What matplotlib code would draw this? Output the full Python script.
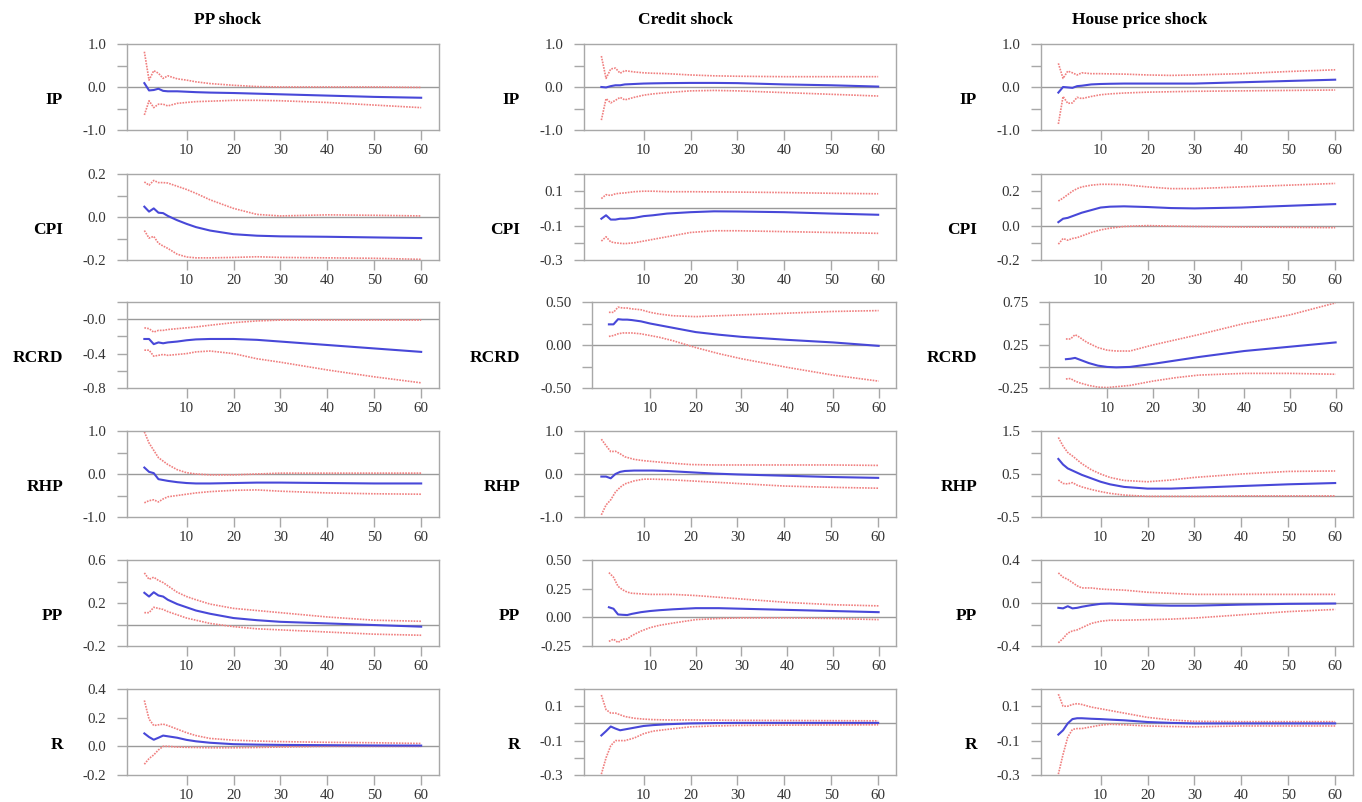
import numpy as np
import matplotlib
matplotlib.use("Agg")
import matplotlib.pyplot as plt

plt.rcParams['font.family'] = ['Liberation Serif', 'DejaVu Serif']

# horizons
H = [1, 2, 3, 4, 5, 6, 8, 10, 12, 15, 20, 25, 30, 40, 50, 60]

shocks = ["PP shock", "Credit shock", "House price shock"]
variables = ["IP", "CPI", "RCRD", "RHP", "PP", "R"]

# ---- PP shock ----
pp_ip_med = [0.09, -0.08, -0.07, -0.04, -0.09, -0.10, -0.10, -0.11, -0.12, -0.13, -0.14, -0.155, -0.17, -0.20, -0.23, -0.25]
pp_ip_hi = [0.82, 0.16, 0.38, 0.32, 0.20, 0.26, 0.19, 0.16, 0.12, 0.08, 0.04, 0.01, 0.0, 0.0, 0.0, -0.01]
pp_ip_lo = [-0.65, -0.32, -0.48, -0.40, -0.40, -0.44, -0.38, -0.36, -0.34, -0.33, -0.31, -0.31, -0.32, -0.36, -0.42, -0.48]

pp_cpi_med = [0.048, 0.025, 0.04, 0.02, 0.018, 0.005, -0.015, -0.032, -0.047, -0.063, -0.08, -0.087, -0.09, -0.092, -0.095, -0.098]
pp_cpi_hi = [0.163, 0.148, 0.17, 0.16, 0.16, 0.158, 0.143, 0.128, 0.11, 0.08, 0.04, 0.012, 0.005, 0.01, 0.008, 0.005]
pp_cpi_lo = [-0.063, -0.098, -0.09, -0.122, -0.135, -0.146, -0.173, -0.186, -0.19, -0.19, -0.188, -0.185, -0.188, -0.19, -0.192, -0.197]

pp_rcrd_med = [-0.23, -0.23, -0.29, -0.27, -0.28, -0.27, -0.26, -0.245, -0.235, -0.23, -0.23, -0.24, -0.26, -0.30, -0.34, -0.38]
pp_rcrd_hi = [-0.10, -0.11, -0.15, -0.13, -0.13, -0.12, -0.11, -0.10, -0.09, -0.07, -0.04, -0.02, -0.01, -0.01, -0.01, -0.01]
pp_rcrd_lo = [-0.36, -0.36, -0.43, -0.42, -0.41, -0.42, -0.41, -0.40, -0.38, -0.37, -0.40, -0.46, -0.50, -0.59, -0.67, -0.74]

pp_rhp_med = [0.15, 0.05, 0.02, -0.12, -0.14, -0.16, -0.19, -0.21, -0.22, -0.22, -0.21, -0.20, -0.20, -0.21, -0.22, -0.22]
pp_rhp_hi = [0.98, 0.72, 0.55, 0.38, 0.30, 0.22, 0.10, 0.03, 0.0, -0.02, -0.02, 0.0, 0.02, 0.02, 0.02, 0.02]
pp_rhp_lo = [-0.67, -0.62, -0.60, -0.65, -0.58, -0.53, -0.50, -0.47, -0.44, -0.41, -0.38, -0.37, -0.40, -0.44, -0.46, -0.47]

pp_pp_med = [0.295, 0.26, 0.30, 0.27, 0.26, 0.23, 0.19, 0.16, 0.13, 0.10, 0.06, 0.04, 0.025, 0.01, -0.005, -0.02]
pp_pp_hi = [0.48, 0.42, 0.44, 0.41, 0.39, 0.36, 0.30, 0.26, 0.23, 0.19, 0.15, 0.13, 0.11, 0.07, 0.04, 0.03]
pp_pp_lo = [0.11, 0.11, 0.16, 0.15, 0.14, 0.12, 0.09, 0.06, 0.04, 0.01, -0.02, -0.04, -0.05, -0.07, -0.09, -0.10]

pp_r_med = [0.09, 0.065, 0.046, 0.06, 0.075, 0.07, 0.06, 0.045, 0.035, 0.025, 0.015, 0.012, 0.01, 0.008, 0.006, 0.005]
pp_r_hi = [0.32, 0.19, 0.145, 0.15, 0.155, 0.145, 0.12, 0.095, 0.075, 0.055, 0.043, 0.037, 0.033, 0.028, 0.025, 0.02]
pp_r_lo = [-0.125, -0.085, -0.06, -0.025, 0.0, 0.0, -0.005, -0.007, -0.008, -0.01, -0.01, -0.008, -0.005, 0.0, 0.0, 0.0]

# ---- Credit shock ----
cr_ip_med = [0.0, -0.01, 0.02, 0.04, 0.04, 0.06, 0.07, 0.08, 0.085, 0.09, 0.095, 0.095, 0.09, 0.06, 0.04, 0.01]
cr_ip_hi = [0.72, 0.20, 0.42, 0.44, 0.32, 0.38, 0.35, 0.33, 0.32, 0.31, 0.28, 0.26, 0.25, 0.24, 0.24, 0.24]
cr_ip_lo = [-0.77, -0.27, -0.37, -0.31, -0.24, -0.30, -0.24, -0.19, -0.16, -0.13, -0.09, -0.08, -0.09, -0.13, -0.17, -0.21]

cr_cpi_med = [-0.06, -0.04, -0.065, -0.065, -0.06, -0.06, -0.055, -0.045, -0.04, -0.03, -0.022, -0.017, -0.018, -0.022, -0.03, -0.037]
cr_cpi_hi = [0.057, 0.08, 0.075, 0.085, 0.088, 0.09, 0.097, 0.1, 0.1, 0.097, 0.097, 0.096, 0.095, 0.092, 0.088, 0.085]
cr_cpi_lo = [-0.19, -0.165, -0.195, -0.2, -0.203, -0.205, -0.2, -0.19, -0.18, -0.165, -0.14, -0.13, -0.13, -0.135, -0.14, -0.145]

cr_rcrd_med = [0.24, 0.24, 0.30, 0.295, 0.295, 0.29, 0.275, 0.25, 0.23, 0.2, 0.15, 0.12, 0.095, 0.06, 0.03, -0.01]
cr_rcrd_hi = [0.38, 0.38, 0.44, 0.43, 0.43, 0.42, 0.41, 0.38, 0.36, 0.34, 0.33, 0.34, 0.35, 0.37, 0.39, 0.40]
cr_rcrd_lo = [0.10, 0.11, 0.13, 0.14, 0.14, 0.14, 0.13, 0.11, 0.09, 0.05, -0.03, -0.10, -0.16, -0.26, -0.35, -0.42]

cr_rhp_med = [-0.06, -0.06, -0.10, 0.0, 0.05, 0.07, 0.08, 0.08, 0.08, 0.07, 0.04, 0.01, -0.01, -0.04, -0.07, -0.09]
cr_rhp_hi = [0.81, 0.66, 0.52, 0.53, 0.47, 0.40, 0.34, 0.31, 0.29, 0.26, 0.22, 0.21, 0.21, 0.21, 0.21, 0.20]
cr_rhp_lo = [-0.95, -0.72, -0.60, -0.42, -0.31, -0.23, -0.16, -0.12, -0.12, -0.13, -0.16, -0.19, -0.22, -0.28, -0.31, -0.33]

cr_pp_med = [0.088, 0.075, 0.025, 0.022, 0.02, 0.03, 0.045, 0.055, 0.062, 0.07, 0.08, 0.08, 0.075, 0.065, 0.055, 0.045]
cr_pp_hi = [0.39, 0.35, 0.27, 0.24, 0.22, 0.21, 0.205, 0.2, 0.2, 0.2, 0.19, 0.175, 0.16, 0.13, 0.11, 0.10]
cr_pp_lo = [-0.21, -0.19, -0.22, -0.19, -0.19, -0.16, -0.12, -0.09, -0.07, -0.05, -0.02, -0.01, -0.005, -0.005, -0.01, -0.02]

cr_r_med = [-0.07, -0.045, -0.018, -0.03, -0.04, -0.035, -0.025, -0.015, -0.01, -0.005, 0.0, 0.002, 0.003, 0.003, 0.003, 0.003]
cr_r_hi = [0.165, 0.08, 0.06, 0.06, 0.05, 0.04, 0.03, 0.025, 0.022, 0.02, 0.02, 0.019, 0.018, 0.017, 0.016, 0.015]
cr_r_lo = [-0.295, -0.2, -0.13, -0.1, -0.1, -0.1, -0.085, -0.06, -0.045, -0.035, -0.02, -0.015, -0.012, -0.01, -0.009, -0.008]

# ---- House price shock ----
hp_ip_med = [-0.13, 0.0, -0.01, -0.02, 0.02, 0.03, 0.06, 0.07, 0.075, 0.08, 0.08, 0.08, 0.08, 0.11, 0.14, 0.17]
hp_ip_hi = [0.55, 0.2, 0.37, 0.33, 0.28, 0.33, 0.31, 0.31, 0.305, 0.30, 0.28, 0.27, 0.28, 0.31, 0.36, 0.40]
hp_ip_lo = [-0.86, -0.22, -0.38, -0.37, -0.24, -0.27, -0.22, -0.18, -0.16, -0.14, -0.12, -0.11, -0.10, -0.09, -0.08, -0.07]

hp_cpi_med = [0.02, 0.04, 0.045, 0.055, 0.065, 0.075, 0.09, 0.105, 0.11, 0.112, 0.108, 0.102, 0.1, 0.105, 0.115, 0.125]
hp_cpi_hi = [0.143, 0.16, 0.18, 0.2, 0.215, 0.225, 0.235, 0.24, 0.24, 0.238, 0.225, 0.215, 0.215, 0.225, 0.235, 0.245]
hp_cpi_lo = [-0.108, -0.075, -0.085, -0.075, -0.07, -0.06, -0.04, -0.025, -0.015, -0.005, 0.0, -0.003, -0.005, -0.008, -0.01, -0.012]

hp_rcrd_med = [0.085, 0.09, 0.10, 0.08, 0.06, 0.04, 0.01, -0.005, -0.01, -0.005, 0.03, 0.07, 0.11, 0.18, 0.23, 0.28]
hp_rcrd_hi = [0.32, 0.32, 0.37, 0.34, 0.30, 0.27, 0.22, 0.19, 0.18, 0.18, 0.25, 0.31, 0.37, 0.50, 0.60, 0.74]
hp_rcrd_lo = [-0.145, -0.14, -0.17, -0.19, -0.205, -0.22, -0.24, -0.245, -0.235, -0.22, -0.17, -0.13, -0.10, -0.08, -0.08, -0.09]

hp_rhp_med = [0.85, 0.72, 0.63, 0.58, 0.53, 0.48, 0.40, 0.32, 0.26, 0.20, 0.16, 0.16, 0.18, 0.22, 0.26, 0.29]
hp_rhp_hi = [1.35, 1.15, 1.0, 0.92, 0.83, 0.74, 0.60, 0.50, 0.42, 0.35, 0.32, 0.36, 0.42, 0.50, 0.56, 0.57]
hp_rhp_lo = [0.36, 0.28, 0.27, 0.30, 0.24, 0.20, 0.14, 0.09, 0.05, 0.01, -0.02, -0.02, -0.02, -0.01, -0.01, -0.01]

hp_pp_med = [-0.045, -0.05, -0.03, -0.05, -0.045, -0.035, -0.02, -0.008, -0.005, -0.01, -0.02, -0.025, -0.025, -0.015, -0.008, -0.005]
hp_pp_hi = [0.28, 0.24, 0.22, 0.19, 0.16, 0.14, 0.14, 0.13, 0.125, 0.12, 0.10, 0.09, 0.08, 0.08, 0.08, 0.08]
hp_pp_lo = [-0.37, -0.33, -0.28, -0.26, -0.25, -0.23, -0.19, -0.17, -0.16, -0.16, -0.155, -0.15, -0.14, -0.11, -0.08, -0.06]

hp_r_med = [-0.065, -0.04, 0.0, 0.025, 0.03, 0.03, 0.027, 0.025, 0.022, 0.018, 0.008, 0.003, 0.0, 0.0, 0.0, 0.0]
hp_r_hi = [0.17, 0.1, 0.1, 0.11, 0.115, 0.11, 0.095, 0.085, 0.075, 0.06, 0.035, 0.02, 0.012, 0.01, 0.01, 0.01]
hp_r_lo = [-0.295, -0.18, -0.08, -0.035, -0.03, -0.03, -0.02, -0.01, -0.005, -0.008, -0.015, -0.018, -0.02, -0.015, -0.015, -0.015]

# y tick labels per panel (bottom to top, '' = unlabeled tick)
lab_pm1 = ["-1.0", "", "0.0", "", "1.0"]
pp_ylabels = [lab_pm1, ["-0.2", "", "0.0", "", "0.2"], ["-0.8", "", "-0.4", "", "-0.0", ""],
              lab_pm1, ["-0.2", "", "0.2", "", "0.6"], ["-0.2", "0.0", "0.2", "0.4"]]
cr_ylabels = [lab_pm1, ["-0.3", "", "-0.1", "", "0.1", ""], ["-0.50", "", "0.00", "", "0.50"],
              lab_pm1, ["-0.25", "0.00", "0.25", "0.50"], ["-0.3", "", "-0.1", "", "0.1", ""]]
hp_ylabels = [lab_pm1, ["-0.2", "", "0.0", "", "0.2", ""], ["-0.25", "", "0.25", "", "0.75"],
              ["-0.5", "", "0.5", "", "1.5"], ["-0.4", "", "0.0", "", "0.4"], ["-0.3", "", "-0.1", "", "0.1", ""]]
pp_ylim = [(-1, 1), (-0.2, 0.2), (-0.8, 0.2), (-1, 1), (-0.2, 0.6), (-0.2, 0.4)]
cr_ylim = [(-1, 1), (-0.3, 0.2), (-0.5, 0.5), (-1, 1), (-0.25, 0.5), (-0.3, 0.2)]
hp_ylim = [(-1, 1), (-0.2, 0.3), (-0.25, 0.75), (-0.5, 1.5), (-0.4, 0.4), (-0.3, 0.2)]

data = {
    0: [(pp_ip_med, pp_ip_lo, pp_ip_hi), (pp_cpi_med, pp_cpi_lo, pp_cpi_hi), (pp_rcrd_med, pp_rcrd_lo, pp_rcrd_hi),
        (pp_rhp_med, pp_rhp_lo, pp_rhp_hi), (pp_pp_med, pp_pp_lo, pp_pp_hi), (pp_r_med, pp_r_lo, pp_r_hi)],
    1: [(cr_ip_med, cr_ip_lo, cr_ip_hi), (cr_cpi_med, cr_cpi_lo, cr_cpi_hi), (cr_rcrd_med, cr_rcrd_lo, cr_rcrd_hi),
        (cr_rhp_med, cr_rhp_lo, cr_rhp_hi), (cr_pp_med, cr_pp_lo, cr_pp_hi), (cr_r_med, cr_r_lo, cr_r_hi)],
    2: [(hp_ip_med, hp_ip_lo, hp_ip_hi), (hp_cpi_med, hp_cpi_lo, hp_cpi_hi), (hp_rcrd_med, hp_rcrd_lo, hp_rcrd_hi),
        (hp_rhp_med, hp_rhp_lo, hp_rhp_hi), (hp_pp_med, hp_pp_lo, hp_pp_hi), (hp_r_med, hp_r_lo, hp_r_hi)],
}
ylabels = [pp_ylabels, cr_ylabels, hp_ylabels]
ylims = [pp_ylim, cr_ylim, hp_ylim]

W, Hpx = 1362, 802
fig = plt.figure(figsize=(W / 100, Hpx / 100), dpi=100)

col_left = [127, 584, 1041]
col_width = 312
row_top = [44, 174, 302, 431, 560, 689]
row_h = 86
title_x = [228, 686, 1140]

frame = "#a8a8a8"
blue = "#4848d8"
red = "#f08080"

for c in range(3):
    fig.text(title_x[c] / W, 1 - 20 / Hpx, shocks[c], ha="center", va="center",
             fontsize=12.5, fontweight="bold")
    for r in range(6):
        labs = ylabels[c][r]
        lo, hi = ylims[c][r]
        # panels with two-decimal labels sit a bit further right
        shift = 8 if any(len(s.lstrip("-")) > 3 for s in labs) and c > 0 else 0
        left = col_left[c] + shift
        ax = fig.add_axes([left / W, 1 - (row_top[r] + row_h) / Hpx,
                           (col_width - shift) / W, row_h / Hpx])
        med, lw_, up = data[c][r]
        ax.axhline(0, color="#9a9a9a", lw=1.0, zorder=1)
        ax.plot(H, up, color=red, lw=1.2, ls=(0, (1, 0.7)), zorder=2)
        ax.plot(H, lw_, color=red, lw=1.2, ls=(0, (1, 0.7)), zorder=2)
        ax.plot(H, med, color=blue, lw=1.5, zorder=3)
        ax.set_xlim(-2.7, 63.8)
        ax.set_ylim(lo, hi)
        ax.set_xticks([10, 20, 30, 40, 50, 60])
        ax.set_yticks(np.linspace(lo, hi, len(labs)))
        ax.set_yticklabels(labs)
        ax.tick_params(axis="both", direction="out", length=7, width=1, color=frame,
                       labelsize=10.8, labelcolor="#333333")
        ax.tick_params(axis="y", pad=8)
        ax.tick_params(axis="x", pad=3)
        for s in ax.spines.values():
            s.set_color(frame)
            s.set_linewidth(1.0)
        fig.text((col_left[c] - 64) / W, 1 - (row_top[r] + 56) / Hpx, variables[r],
                 ha="right", va="center", fontsize=12.5, fontweight="bold")

fig.savefig("out.png", dpi=100)
